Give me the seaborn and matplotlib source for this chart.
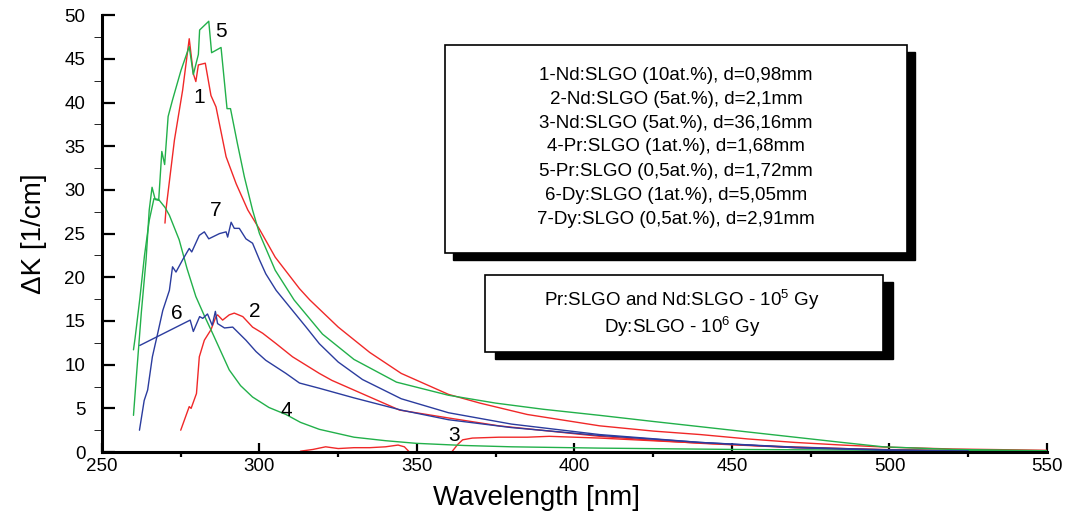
import matplotlib
matplotlib.use("Agg")
import matplotlib.pyplot as plt
from matplotlib.patches import Rectangle
from matplotlib.ticker import MultipleLocator
import seaborn as sns

# curve 1 - Nd:SLGO (10at.%), d=0,98mm
wl_1 = [270, 270.3, 273, 275.6, 277.7, 279, 279.8, 280.6, 282.8, 284.6, 286.2, 289.4, 292.6, 296.3,
        300, 305, 312.7, 316, 325, 335, 345, 360, 370, 385, 408, 425, 440, 455, 470, 485, 500, 520, 550]
dk_1 = [26.2, 27.7, 35.7, 41.4, 47.3, 43.3, 42.4, 44.3, 44.5, 40.8, 39.5, 33.8, 30.7, 27.7,
        25.5, 22.3, 18.7, 17.4, 14.3, 11.4, 9.0, 6.6, 5.6, 4.3, 3.0, 2.4, 2.0, 1.5, 1.1, 0.8, 0.55, 0.35, 0.2]

# curve 2 - Nd:SLGO (5at.%), d=2,1mm
wl_2 = [275, 277, 277.7, 278.3, 280, 280.9, 282.5, 284.6, 286.2, 286.7, 288.3, 290.4, 292, 294.7, 297.8,
        301, 305.3, 310.5, 319, 323, 335, 344.5, 360, 376, 392, 408, 425, 440, 455, 470, 485, 500, 525, 550]
dk_2 = [2.5, 4.5, 5.2, 5.0, 6.7, 10.9, 12.8, 14.0, 15.5, 15.7, 15.1, 15.7, 15.9, 15.5, 14.3,
        13.6, 12.4, 10.9, 9.0, 8.2, 6.3, 4.8, 3.9, 3.0, 2.4, 1.8, 1.35, 1.0, 0.75, 0.5, 0.35, 0.25, 0.15, 0.1]

# curve 3 - Nd:SLGO (5at.%), d=36,16mm (two pieces, gap near 350 nm)
wl_3a = [313, 317, 321, 325, 330, 335, 340, 344, 346, 347.6]
dk_3a = [0.1, 0.3, 0.6, 0.4, 0.5, 0.5, 0.6, 0.8, 0.6, 0.0]
wl_3b = [361, 363, 364.5, 367.6, 376, 385, 392, 400, 408, 430, 460, 490, 520, 550]
dk_3b = [0.0, 0.9, 1.4, 1.6, 1.7, 1.7, 1.8, 1.7, 1.6, 1.2, 0.7, 0.35, 0.15, 0.1]

# curve 4 - Pr:SLGO (1at.%), d=1,68mm
wl_4 = [260, 260.5, 262, 263.5, 265, 266.5, 268, 270, 271.4, 274.5, 277, 279.8, 282.5, 285.1, 288,
        290.4, 294, 297.8, 303, 308.4, 313, 319, 330, 340, 349.7, 365, 380, 408, 450, 500, 550]
dk_4 = [11.7, 13.0, 17.5, 22.5, 26.5, 29.0, 28.9, 28.0, 27.1, 24.3, 21.0, 17.8, 15.6, 13.6, 11.3,
        9.4, 7.6, 6.3, 5.1, 4.3, 3.4, 2.6, 1.7, 1.3, 1.0, 0.75, 0.6, 0.45, 0.3, 0.2, 0.15]

# curve 5 - Pr:SLGO (0,5at.%), d=1,72mm
wl_5 = [260, 261, 262.5, 264, 265, 265.9, 266.9, 268, 269, 269.9, 271, 272.4, 275.1, 277.7, 279,
        280.6, 281, 283.9, 284.8, 287.8, 289.7, 290.8, 293, 295.2, 297.8, 300, 305, 311, 320, 330,
        343.5, 360, 375, 390, 408, 425, 440, 455, 470, 485, 498, 520, 550]
dk_5 = [4.2, 9.0, 16.0, 22.0, 27.7, 30.3, 28.9, 28.8, 34.4, 32.9, 38.4, 40.3, 43.7, 46.4, 43.2,
        45.5, 48.3, 49.3, 45.7, 46.3, 39.3, 39.3, 35.3, 31.5, 27.7, 25.0, 20.8, 17.4, 13.5, 10.6,
        8.0, 6.5, 5.6, 4.9, 4.2, 3.5, 2.9, 2.3, 1.7, 1.1, 0.6, 0.3, 0.15]

# curve 6 - Dy:SLGO (1at.%), d=5,05mm
wl_6 = [262, 278, 279, 281, 282, 283.5, 285, 286, 286.7, 288.9, 291.5, 295.7, 298.9, 302, 308.4,
        312.7, 319, 330, 345, 360, 380, 408, 440, 470, 500, 525]
dk_6 = [12.2, 15.1, 13.8, 15.5, 15.3, 15.8, 14.5, 16.1, 14.7, 14.2, 14.3, 12.8, 11.5, 10.5, 9.0,
        7.9, 7.3, 6.2, 4.8, 3.7, 2.8, 1.9, 1.1, 0.55, 0.25, 0.1]

# curve 7 - Dy:SLGO (0,5at.%), d=2,91mm
wl_7 = [261.9, 263.4, 264.5, 266, 267.7, 269.3, 271.4, 272.4, 273.5, 275.6, 277.7, 278.5, 280.9,
        282.5, 283.9, 287.3, 289.4, 289.9, 291, 292, 293.6, 295.7, 297.8, 300, 302, 305.3, 310.5,
        314.8, 319, 325, 332.7, 345, 360, 380, 408, 440, 470, 500, 525]
dk_7 = [2.5, 5.9, 7.1, 10.9, 13.6, 16.2, 18.5, 21.2, 20.6, 22.0, 23.3, 22.9, 24.8,
        25.2, 24.4, 25.0, 25.2, 24.6, 26.3, 25.6, 25.6, 24.4, 23.9, 22.0, 20.4, 18.5, 16.2,
        14.3, 12.4, 10.3, 8.3, 6.1, 4.5, 3.2, 2.0, 1.1, 0.5, 0.2, 0.1]

curve_labels = ["1", "2", "3", "4", "5", "6", "7"]
label_wl = [280.9, 298.4, 361.9, 308.5, 287.9, 273.9, 286.0]
label_dk = [40.6, 16.1, 1.9, 4.8, 48.1, 15.9, 27.7]

legend_lines = [
    "1-Nd:SLGO (10at.%), d=0,98mm",
    "2-Nd:SLGO (5at.%), d=2,1mm",
    "3-Nd:SLGO (5at.%), d=36,16mm",
    "4-Pr:SLGO (1at.%), d=1,68mm",
    "5-Pr:SLGO (0,5at.%), d=1,72mm",
    "6-Dy:SLGO (1at.%), d=5,05mm",
    "7-Dy:SLGO (0,5at.%), d=2,91mm",
]
dose_lines = ["Pr:SLGO and Nd:SLGO - 10$^5$ Gy", "Dy:SLGO - 10$^6$ Gy"]

RED = "#f02828"
GREEN = "#22b04a"
BLUE = "#2b3c9e"

W, H = 1070, 522

sns.set_style("ticks")
plt.rcParams["font.family"] = ["Liberation Sans", "DejaVu Sans"]
plt.rcParams["mathtext.fontset"] = "custom"
plt.rcParams["mathtext.rm"] = "Liberation Sans"
for key in ["text.color", "axes.labelcolor", "xtick.color", "ytick.color", "axes.edgecolor"]:
    plt.rcParams[key] = "black"

fig = plt.figure(figsize=(W / 100, H / 100), dpi=100)
ax = fig.add_axes([0.0953, 0.134, 0.8832, 0.837])

series = [
    (wl_1, dk_1, RED), (wl_2, dk_2, RED), (wl_3a, dk_3a, RED), (wl_3b, dk_3b, RED),
    (wl_4, dk_4, GREEN), (wl_5, dk_5, GREEN), (wl_6, dk_6, BLUE), (wl_7, dk_7, BLUE),
]
for xs, ys, col in series:
    sns.lineplot(x=xs, y=ys, ax=ax, color=col, linewidth=1.0, sort=False, estimator=None)

for lab, xv, yv in zip(curve_labels, label_wl, label_dk):
    ax.text(xv, yv, lab, fontsize=15, ha="center", va="center")

ax.set_xlim(250, 550)
ax.set_ylim(0, 50)
ax.xaxis.set_major_locator(MultipleLocator(50))
ax.xaxis.set_minor_locator(MultipleLocator(25))
ax.yaxis.set_major_locator(MultipleLocator(5))
ax.yaxis.set_minor_locator(MultipleLocator(2.5))
sns.despine(ax=ax)
for side in ["left", "bottom"]:
    ax.spines[side].set_linewidth(2.2)
ax.tick_params(axis="both", direction="in", width=1.6, labelsize=13.5)
ax.tick_params(axis="y", which="major", length=9, pad=12)
ax.tick_params(axis="y", which="minor", length=6)
ax.tick_params(axis="x", which="major", length=6.5, pad=4)
ax.tick_params(axis="x", which="minor", length=3.5, width=1.6)

ax.set_xlabel("Wavelength [nm]", fontsize=20)
ax.set_ylabel("ΔK [1/cm]", fontsize=20)
ax.xaxis.set_label_coords(0.46, -0.075)
ax.yaxis.set_label_coords(-0.058, 0.50)


def fx(px):
    return px / W


def fy(py):
    return 1 - py / H


# boxes with drop shadow, in figure coordinates (pixel positions of the reference)
def shadow_box(x0, y0, x1, y1, dx, dy):
    fig.add_artist(Rectangle((fx(x0 + dx), fy(y1 + dy)), fx(x1 - x0), (y1 - y0) / H,
                             transform=fig.transFigure, facecolor="black", edgecolor="black", zorder=5))
    fig.add_artist(Rectangle((fx(x0), fy(y1)), fx(x1 - x0), (y1 - y0) / H,
                             transform=fig.transFigure, facecolor="white", edgecolor="black",
                             linewidth=1.2, zorder=6))


shadow_box(445, 45, 907, 253, 8, 7)
for i, line in enumerate(legend_lines):
    fig.text(fx(676), fy(75 + 24 * i), line, ha="center", va="center", fontsize=13.5, zorder=7)

shadow_box(485, 275, 883, 352, 10, 7)
for i, line in enumerate(dose_lines):
    fig.text(fx(682), fy(300 + 27 * i), line, ha="center", va="center", fontsize=13.5, zorder=7)

fig.savefig("out.png", dpi=100)
